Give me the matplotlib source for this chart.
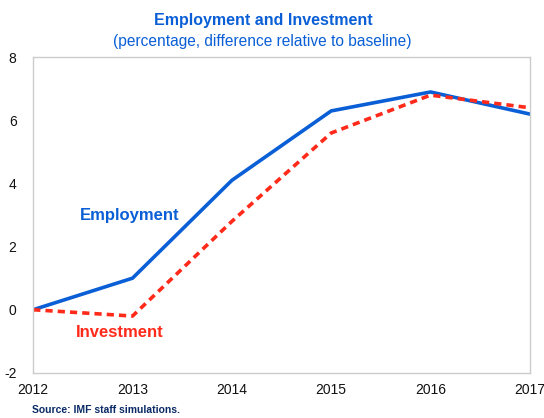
import matplotlib.pyplot as plt

plt.rcParams['font.family'] = ['Liberation Sans', 'DejaVu Sans']
plt.rcParams['axes.unicode_minus'] = False

# Datos
anios = [2012, 2013, 2014, 2015, 2016, 2017]
empleo = [0.0, 1.0, 4.1, 6.3, 6.9, 6.2]
inversion = [0.0, -0.2, 2.8, 5.6, 6.8, 6.4]

azul = '#0a5fd6'
rojo = '#ff2a1a'

fig = plt.figure(figsize=(5.44, 4.18), dpi=100)
ax = fig.add_axes([0.061, 0.108, 0.913, 0.755])

ax.plot(anios, empleo, color=azul, linewidth=2.6)
ax.plot(anios, inversion, color=rojo, linewidth=2.6, linestyle=(0, (2.0, 1.4)))

ax.set_xlim(2012, 2017)
ax.set_ylim(-2, 8)
ax.set_xticks(anios)
ax.set_yticks([-2, 0, 2, 4, 6, 8])
ax.tick_params(length=0, labelsize=10, colors='#111111')
ax.tick_params(axis='x', pad=7)
ax.tick_params(axis='y', pad=12)
for s in ax.spines.values():
    s.set_color('#cccccc')
    s.set_linewidth(1)

# Etiquetas de las series
ax.text(2012.97, 3.0, 'Employment', color=azul, fontsize=12, fontweight='bold',
        ha='center', va='center')
ax.text(2012.87, -0.73, 'Investment', color=rojo, fontsize=12, fontweight='bold',
        ha='center', va='center')

# Títulos
fig.text(0.484, 0.952, 'Employment and Investment', color=azul, fontsize=11.5,
         fontweight='bold', ha='center', va='center')
fig.text(0.482, 0.9, '(percentage, difference relative to baseline)', color=azul,
         fontsize=11.2, ha='center', va='center')
fig.text(0.058, 0.018, 'Source: IMF staff simulations.', color='#0a2a66',
         fontsize=7.5, fontweight='bold', ha='left', va='center')

plt.savefig('out.png', dpi=100)
